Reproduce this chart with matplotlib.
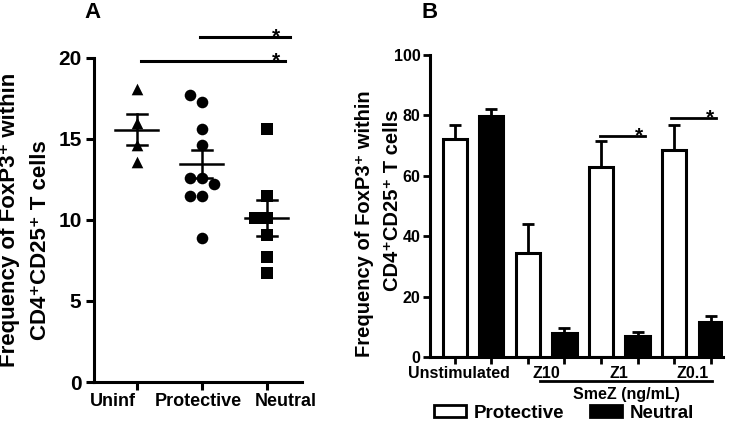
"""
FoxP3+ Treg frequency: scatter (A) and bars (B)
"""
import numpy as np
import matplotlib
matplotlib.use('Agg')
import matplotlib.pyplot as plt
from matplotlib.patches import Patch

plt.rcParams['font.family'] = ['Liberation Sans', 'DejaVu Sans']
plt.rcParams['font.weight'] = 'bold'

#======================================================================
# data
#======================================================================
# panel A
groups_a = ['Uninf', 'Protective', 'Neutral']
uninf = [18.1, 16.0, 14.6, 13.6]
protective = [17.7, 17.3, 15.6, 14.6, 12.6, 12.6, 12.2, 11.5, 11.5, 8.9]
neutral = [15.6, 11.5, 10.1, 10.1, 9.1, 7.7, 6.7]
yticks_a = [0, 5, 10, 15, 20]

# panel B
conditions_b = ['Unstimulated', 'Z10', 'Z1', 'Z0.1']
prot_mean = [72.2, 34.5, 63.0, 68.6]
prot_sem = [4.6, 9.5, 8.5, 8.2]
neut_mean = [79.8, 7.8, 7.1, 11.5]
neut_sem = [2.2, 1.7, 1.1, 2.1]
yticks_b = [0, 20, 40, 60, 80, 100]


def swarm_x(ax, x0, vals, d):
    # simple beeswarm in pixel space, d = marker diameter in px
    pts = ax.transData.transform([(x0, v) for v in vals])
    offs = np.zeros(len(vals))
    placed = []
    cands = [0.0]
    for k in range(1, 8):
        cands += [-k * d, k * d]
    for i in np.argsort(vals):
        px, py = pts[i]
        for c in cands:
            if all((px + c - qx) ** 2 + (py - qy) ** 2 >= d * d for qx, qy in placed):
                break
        placed.append((px + c, py))
        offs[i] = c
    back = ax.transData.inverted().transform(
        [(pts[i][0] + offs[i], pts[i][1]) for i in range(len(vals))])
    return back[:, 0]


fig = plt.figure(figsize=(7.33, 4.24), dpi=100)
W, H = 733, 424

#======================================================================
# panel A
#======================================================================
axA = fig.add_axes([94 / W, 1 - 382 / H, (302 - 94) / W, (382 - 58) / H])
axA.set_xlim(-0.66, 2.54)
axA.set_ylim(0, 20)

markers = ['^', 'o', 's']
for i, vals in enumerate([uninf, protective, neutral]):
    xs = swarm_x(axA, i, vals, 12)
    axA.scatter(xs, vals, marker=markers[i], s=70, color='black', zorder=3,
                clip_on=False, linewidths=0)
    m = np.mean(vals)
    sem = np.std(vals, ddof=1) / np.sqrt(len(vals))
    axA.plot([i - 0.33, i + 0.33], [m, m], color='black', lw=1.8, zorder=4)
    axA.plot([i, i], [m - sem, m + sem], color='black', lw=1.8, zorder=4)
    for y in (m - sem, m + sem):
        axA.plot([i - 0.15, i + 0.15], [y, y], color='black', lw=1.8, zorder=4)

# significance bars
for x1, x2, y, xs in [(0.97, 2.35, 21.3, 2.14), (0.06, 2.28, 19.8, 2.14)]:
    axA.plot([x1, x2], [y, y], color='black', lw=2.2, clip_on=False)
    axA.annotate('*', xy=(xs, y), xytext=(0, -4), textcoords='offset points',
                 ha='center', va='baseline', fontsize=15, fontweight='bold',
                 annotation_clip=False)

axA.set_xticks(range(len(groups_a)))
axA.set_xticklabels([])
# category labels are spread apart like the original (not centred on ticks)
for lbl, x in zip(groups_a, [-0.37, 0.94, 2.29]):
    axA.annotate(lbl, xy=(x, 0), xytext=(0, -8), textcoords='offset points',
                 ha='center', va='top', fontsize=13, fontweight='bold',
                 annotation_clip=False)
axA.set_yticks(yticks_a)
axA.tick_params(axis='x', direction='out', length=6, width=2.2)
axA.tick_params(axis='y', direction='out', length=6, width=2.2, labelsize=15, pad=3)
for s in ['top', 'right']:
    axA.spines[s].set_visible(False)
for s in ['left', 'bottom']:
    axA.spines[s].set_linewidth(2.2)

#======================================================================
# panel B
#======================================================================
axB = fig.add_axes([430 / W, 1 - 357 / H, (723 - 430) / W, (357 - 55) / H])
axB.set_xlim(-0.68, 7.34)
axB.set_ylim(0, 100)

pos_p = np.arange(len(conditions_b)) * 2
pos_n = pos_p + 1
axB.bar(pos_p, prot_mean, width=0.66, color='white', edgecolor='black', linewidth=2.2, zorder=2)
axB.bar(pos_n, neut_mean, width=0.66, color='black', edgecolor='black', linewidth=2.2, zorder=2)
axB.errorbar(pos_p, prot_mean, yerr=[np.zeros(len(prot_sem)), prot_sem], fmt='none',
             ecolor='black', elinewidth=2, capsize=4.5, capthick=2, zorder=1)
axB.errorbar(pos_n, neut_mean, yerr=[np.zeros(len(neut_sem)), neut_sem], fmt='none',
             ecolor='black', elinewidth=2, capsize=4.5, capthick=2, zorder=1)

axB.set_xticks(np.arange(2 * len(conditions_b)))
axB.set_xticklabels([])
axB.set_yticks(yticks_b)
axB.tick_params(axis='x', direction='out', length=5, width=2, pad=2)
axB.tick_params(axis='y', direction='out', length=5, width=2, labelsize=11.5, pad=2)
for s in ['top', 'right']:
    axB.spines[s].set_visible(False)
for s in ['left', 'bottom']:
    axB.spines[s].set_linewidth(2.2)

for lbl, x in zip(conditions_b, [0.1, 2.5, 4.5, 6.5]):
    axB.text(x, -5.4, lbl, ha='center', va='center', fontsize=11.5,
             fontweight='bold', clip_on=False)
axB.plot([2.33, 7.04], [-8.0, -8.0], color='black', lw=2, clip_on=False)
axB.text(4.71, -12.3, 'SmeZ (ng/mL)', ha='center', va='center', fontsize=11.5,
         fontweight='bold', clip_on=False)

for x1, x2, y, xs in [(3.97, 5.2, 73.2, 5.04), (5.92, 7.15, 79.1, 6.99)]:
    axB.plot([x1, x2], [y, y], color='black', lw=2, clip_on=False)
    axB.annotate('*', xy=(xs, y), xytext=(0, -4), textcoords='offset points',
                 ha='center', va='baseline', fontsize=15, fontweight='bold',
                 annotation_clip=False)

#======================================================================
# labels, legend
#======================================================================
ylab1 = 'Frequency of FoxP3\u207a within'
ylab2 = 'CD4\u207aCD25\u207a T cells'
fig.text(10 / W, 1 - 220 / H, ylab1, rotation=90, ha='center', va='center', fontsize=16)
fig.text(41 / W, 1 - 240 / H, ylab2, rotation=90, ha='center', va='center', fontsize=16)
fig.text(365 / W, 1 - 224 / H, ylab1, rotation=90, ha='center', va='center', fontsize=14.5)
fig.text(393 / W, 1 - 200 / H, ylab2, rotation=90, ha='center', va='center', fontsize=14.5)

fig.text(92 / W, 1 - 12 / H, 'A', ha='center', va='center', fontsize=16)
fig.text(430 / W, 1 - 12 / H, 'B', ha='center', va='center', fontsize=16)

handles = [Patch(facecolor='white', edgecolor='black', linewidth=2, label='Protective'),
           Patch(facecolor='black', edgecolor='black', linewidth=2, label='Neutral')]
fig.legend(handles=handles, loc='center', bbox_to_anchor=(564 / W, 1 - 413 / H),
           ncol=2, frameon=False, fontsize=13.5, handlelength=1.7, handleheight=0.55,
           columnspacing=1.4, handletextpad=0.4, borderpad=0)

fig.savefig('out.png', dpi=100)
